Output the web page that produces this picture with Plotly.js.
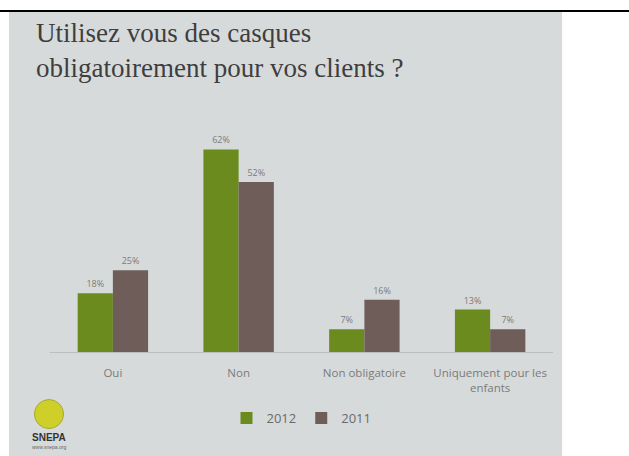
<!DOCTYPE html>
<html>
<head>
<meta charset="utf-8">
<script src="https://cdn.plot.ly/plotly-3.0.1.min.js"></script>
<style>
  html, body { margin: 0; padding: 0; background: #fff; }
  #chart { width: 629px; height: 456px; }
</style>
</head>
<body>
<div id="chart"></div>
<script>
// answers and percentages per year
var categories = ["Oui", "Non", "Non obligatoire", "Uniquement pour les<br>enfants"];
var values2012 = [18, 62, 7, 13];
var values2011 = [25, 52, 16, 7];

var green = "#6c8b1e";
var brown = "#6e5d58";

var trace2012 = {
    x: categories,
    y: values2012,
    name: "2012",
    type: "bar",
    marker: {color: green},
    text: values2012.map(v => v + "%"),
    textposition: "outside",
    textfont: {family: "Open Sans", size: 9, color: "#7a7a7a"},
    cliponaxis: false
};
var trace2011 = {
    x: categories,
    y: values2011,
    name: "2011",
    type: "bar",
    marker: {color: brown},
    text: values2011.map(v => v + "%"),
    textposition: "outside",
    textfont: {family: "Open Sans", size: 9, color: "#7a7a7a"},
    cliponaxis: false
};

var layout = {
    width: 629,
    height: 456,
    margin: {l: 50, r: 76, t: 120, b: 104},
    paper_bgcolor: "#ffffff",
    plot_bgcolor: "rgba(0,0,0,0)",
    barmode: "group",
    bargap: 0.44,
    bargroupgap: 0,
    showlegend: true,
    legend: {
        orientation: "h",
        x: 0.5, xanchor: "center",
        y: -0.22, yanchor: "top",
        font: {family: "Open Sans", size: 13, color: "#6a6a6a"},
        bgcolor: "rgba(0,0,0,0)"
    },
    xaxis: {
        showline: true,
        linecolor: "#bcbfc0",
        linewidth: 1,
        ticks: "",
        ticklabelstandoff: 10,
        tickfont: {family: "Open Sans", size: 11.5, color: "#7a7a7a"},
        fixedrange: true
    },
    yaxis: {
        range: [0, 71],
        visible: false,
        showgrid: false,
        zeroline: false
    },
    shapes: [
        // slide area of the photo
        {type: "rect", xref: "paper", yref: "paper", layer: "below",
         x0: -0.0815, x1: 1.018, y0: -0.46, y1: 1.466,
         fillcolor: "#d7dadb", line: {width: 0}},
        // black rule at top
        {type: "line", xref: "paper", yref: "paper",
         x0: -0.1, x1: 1.16, y0: 1.47, y1: 1.47,
         line: {color: "#000000", width: 2}},
        // logo
        {type: "circle", xref: "paper", yref: "paper",
         x0: -0.031, x1: 0.027, y0: -0.33, y1: -0.205,
         fillcolor: "#cfcf2a", line: {color: "#a8a838", width: 1}}
    ],
    annotations: [
        {text: "Utilisez vous des casques<br>obligatoirement pour vos clients ?",
         xref: "paper", yref: "paper", x: -0.032, y: 1.45,
         xanchor: "left", yanchor: "top", align: "left", showarrow: false,
         font: {family: "Liberation Serif", size: 27, color: "#3e3e3e"}},
        {text: "<b>SNEPA</b>", xref: "paper", yref: "paper",
         x: -0.002, y: -0.37, xanchor: "center", yanchor: "middle", showarrow: false,
         font: {family: "Liberation Sans", size: 10, color: "#333333"}},
        {text: "www.snepa.org", xref: "paper", yref: "paper",
         x: -0.002, y: -0.41, xanchor: "center", yanchor: "middle", showarrow: false,
         font: {family: "Liberation Sans", size: 5, color: "#666666"}}
    ]
};

Plotly.newPlot("chart", [trace2012, trace2011], layout, {displayModeBar: false, staticPlot: true});
</script>
</body>
</html>
